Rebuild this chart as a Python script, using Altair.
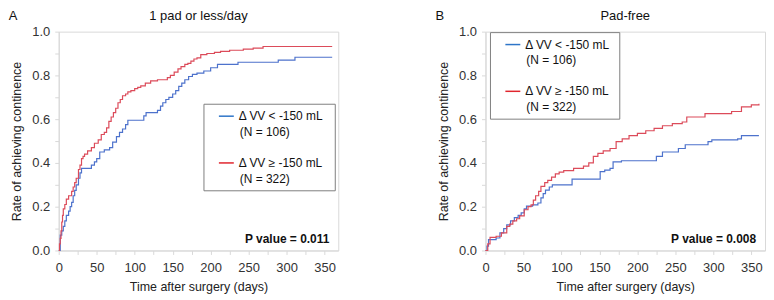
import altair as alt
import pandas as pd

# ---------------- data ----------------
groups = ["ΔVV < -150 mL", "ΔVV ≥ -150 mL"]
legend_lines1 = ["Δ VV < -150 mL", "Δ VV ≥ -150 mL"]
legend_lines2 = ["(N = 106)", "(N = 322)"]
line_colors = ["#4d72cc", "#dc4b5a"]
legend_colors = ["#2e75c8", "#e0262e"]

# Panel A: 1 pad or less/day
a_low_days = [0, 2, 4, 6, 8, 10, 13, 15, 17, 19, 21, 23, 26, 28, 30, 43, 47, 50, 54, 60,
              67, 71, 76, 80, 84, 88, 91, 112, 115, 130, 134, 137, 141, 145, 150, 154, 158,
              162, 166, 171, 176, 182, 191, 200, 209, 236, 289, 311, 360]
a_low_rate = [0, .07, .09, .11, .135, .16, .18, .2, .22, .25, .275, .3, .33, .355, .375, .39,
              .405, .42, .45, .46, .47, .495, .52, .54, .555, .575, .595, .615, .63, .64, .66,
              .675, .69, .70, .715, .73, .75, .765, .78, .795, .805, .81, .82, .835, .85, .86,
              .87, .883, .883]
a_high_days = [0, 1, 2, 3, 4, 5, 6, 8, 10, 13, 17, 19, 21, 23, 26, 28, 30, 32, 34, 38, 43, 47,
               52, 56, 60, 63, 66, 69, 72, 75, 78, 81, 84, 88, 91, 95, 100, 104, 108, 114, 121,
               130, 139, 143, 147, 152, 157, 161, 166, 170, 174, 178, 182, 187, 195, 205, 213,
               225, 243, 256, 269, 360]
a_high_rate = [0, .03, .055, .09, .13, .16, .19, .21, .235, .25, .27, .29, .31, .33, .37, .39,
               .42, .43, .44, .455, .47, .49, .505, .53, .54, .56, .59, .61, .63, .65, .675, .69,
               .707, .715, .725, .73, .74, .745, .752, .765, .775, .78, .78, .79, .80, .815, .83,
               .84, .85, .855, .865, .875, .88, .895, .90, .905, .91, .915, .92, .925, .932, .932]

# Panel B: Pad-free
b_low_days = [0, 2, 4, 14, 19, 24, 28, 33, 38, 43, 47, 51, 54, 62, 69, 73, 76, 79, 84, 88,
              114, 151, 157, 164, 168, 179, 225, 233, 254, 263, 293, 298, 332, 337, 360]
b_low_rate = [0, .02, .05, .057, .08, .1, .117, .135, .15, .16, .172, .19, .203, .208, .217,
              .24, .26, .276, .29, .30, .326, .36, .367, .375, .405, .41, .43, .45, .466, .483,
              .497, .505, .51, .525, .525]
b_high_days = [0, 3, 6, 14, 21, 28, 32, 36, 41, 45, 51, 56, 60, 63, 66, 70, 73, 78, 82, 87,
               92, 97, 103, 116, 129, 136, 142, 148, 155, 164, 172, 180, 189, 200, 211, 222,
               233, 246, 259, 265, 289, 324, 337, 350, 360]
b_high_rate = [0, .03, .06, .065, .08, .11, .12, .135, .145, .158, .186, .2, .208, .23, .25,
               .27, .293, .31, .32, .335, .35, .358, .365, .375, .385, .40, .43, .444, .455,
               .466, .497, .51, .525, .535, .547, .558, .57, .58, .587, .61, .625, .635, .656,
               .665, .67]

titles = ["1 pad or less/day", "Pad-free"]
letters = ["A", "B"]
pvalues = ["P value = 0.011", "P value = 0.008"]

x_ticks = list(range(0, 351, 25))
y_ticks = [i / 10 for i in range(0, 11)]

W, H = 281, 220
FONT = "Liberation Sans"


def one(text_value, **kw):
    return alt.Chart(alt.Data(values=[{"t": text_value}])).mark_text(
        font=FONT, **kw).encode(text="t:N")


def panel(low_d, low_r, high_d, high_r, title, letter, pval, box):
    df = pd.concat([
        pd.DataFrame({"day": low_d, "rate": low_r, "group": groups[0]}),
        pd.DataFrame({"day": high_d, "rate": high_r, "group": groups[1]}),
    ])
    lines = alt.Chart(df).mark_line(interpolate="step-after", strokeWidth=1.2).encode(
        x=alt.X("day:Q", scale=alt.Scale(domain=[0, 368], nice=False, zero=False),
                axis=alt.Axis(values=x_ticks, title="Time after surgery (days)",
                              labelExpr="datum.value % 50 == 0 ? datum.label : ''",
                              labelFlush=False)),
        y=alt.Y("rate:Q", scale=alt.Scale(domain=[0, 1], nice=False),
                axis=alt.Axis(values=y_ticks, title="Rate of achieving continence",
                              labelExpr="round(datum.value*10) % 2 == 0 ? format(datum.value, '.1f') : ''")),
        color=alt.Color("group:N", scale=alt.Scale(domain=groups, range=line_colors), legend=None),
    )
    bx0, by0, bx1, by1 = box
    layers = [lines]
    layers.append(alt.Chart(alt.Data(values=[{}])).mark_rect(
        fill="white", stroke="#7f7f7f", strokeWidth=1).encode(
        x=alt.value(bx0), x2=alt.value(bx1), y=alt.value(by0), y2=alt.value(by1)))
    for i in range(2):
        ly = by0 + 12 + i * 47
        layers.append(alt.Chart(alt.Data(values=[{}])).mark_rule(
            color=legend_colors[i], strokeWidth=1.5).encode(
            x=alt.value(bx0 + 15), x2=alt.value(bx0 + 30), y=alt.value(ly)))
        layers.append(one(legend_lines1[i], align="left", baseline="middle", fontSize=12,
                          color="#111").encode(x=alt.value(bx0 + 35), y=alt.value(ly)))
        layers.append(one(legend_lines2[i], align="left", baseline="middle", fontSize=12,
                          color="#111").encode(x=alt.value(bx0 + 36), y=alt.value(ly + 16)))
    layers.append(one(pval, align="right", baseline="middle", fontSize=12, fontWeight="bold",
                      color="#111").encode(x=alt.value(W - 9), y=alt.value(208)))
    layers.append(one(letter, align="center", baseline="middle", fontSize=13,
                      color="#111").encode(x=alt.value(-46), y=alt.value(-16)))
    layers.append(one(title, align="center", baseline="middle", fontSize=13,
                      color="#111").encode(x=alt.value(W / 2), y=alt.value(-16)))
    return alt.layer(*layers).properties(width=W, height=H)


pa = panel(a_low_days, a_low_rate, a_high_days, a_high_rate, titles[0], letters[0], pvalues[0],
           (146, 73, 278, 160))
pb = panel(b_low_days, b_low_rate, b_high_days, b_high_rate, titles[1], letters[1], pvalues[1],
           (5, 1, 135, 88))

chart = alt.hconcat(pa, pb, spacing=96).properties(
    padding={"left": 0, "top": 0, "right": 0, "bottom": 0}
).configure_view(stroke="#d9d9d9", strokeWidth=1).configure_axis(
    labelFont=FONT, titleFont=FONT, labelFontSize=13, titleFontSize=12.5,
    titleFontWeight="normal", labelColor="#333", titleColor="#222",
    tickColor="#d9d9d9", tickSize=4, domainColor="#d9d9d9", grid=False,
    labelPadding=5, titlePadding=8
).configure_axisX(labelPadding=7, titlePadding=6)

chart.save("out.html", embed_options={"renderer": "svg", "actions": False})
